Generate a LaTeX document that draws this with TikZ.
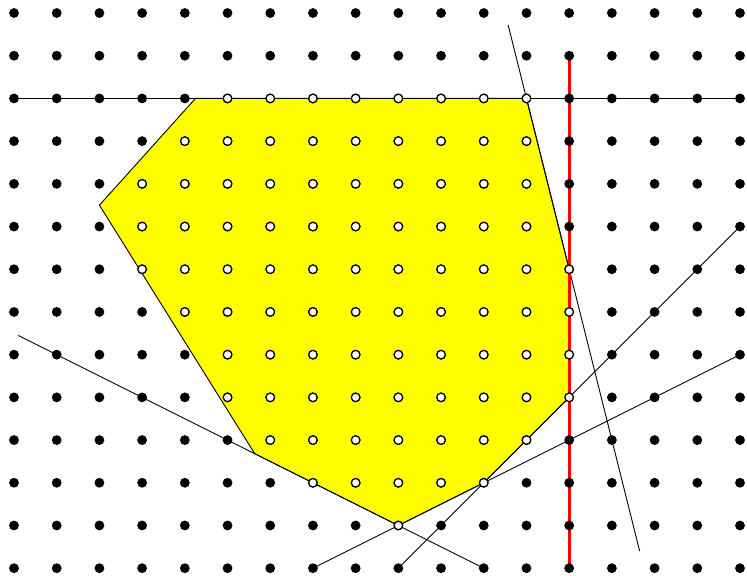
\documentclass[tikz,border=0pt]{standalone}
\usepackage{amsmath}
\usepackage{tikz}
\definecolor{hullyellow}{RGB}{255,255,0}

\begin{document}
\begin{tikzpicture}[x=1cm, y=1cm,
    hull/.style={fill=hullyellow, draw=black, line width=0.6pt},
    cutline/.style={black, line width=0.6pt},
    redcut/.style={red, line width=2pt},
    blackdot/.style={fill=black},
    whitedot/.style={fill=white, draw=black, line width=0.8pt}]
                    \useasboundingbox (-0.328,-0.164) rectangle (17.164,13.305);

                    % 多边形顶点
                    \coordinate (p1) at (4.25,11);
                    \coordinate (p2) at (12,11);
                    \coordinate (p3) at (13,7);
                    \coordinate (p4) at (13,4);
                    \coordinate (p5) at (11,2);
                    \coordinate (p6) at (9,1);
                    \coordinate (p7) at (5.636,2.682);
                    \coordinate (p8) at (2,8.5);

                    % 填充黄色区域
                    \filldraw[hull] (p1) -- (p2) -- (p3) -- (p4) -- (p5) -- (p6) -- (p7) -- (p8) -- cycle;

                    % 割平面直线
                    \coordinate (hA) at (0,11);
                    \coordinate (hB) at (17,11);
                    \draw[cutline] (hA) -- (hB);
                    \coordinate (sA) at (11.57,12.72);
                    \coordinate (sB) at (14.65,0.4);
                    \draw[cutline] (sA) -- (sB);
                    \coordinate (dA) at (9,0);
                    \coordinate (dB) at (17,8);
                    \draw[cutline] (dA) -- (dB);
                    \coordinate (eA) at (7,0);
                    \coordinate (eB) at (17,5);
                    \draw[cutline] (eA) -- (eB);
                    \coordinate (fA) at (0.1,5.45);
                    \coordinate (fB) at (11,0);
                    \draw[cutline] (fA) -- (fB);

                    % 红色竖线
                    \coordinate (rA) at (13,12);
                    \coordinate (rB) at (13,0);
                    \draw[redcut] (rA) -- (rB);

                    % 整点
                    \foreach \x in {0,...,17}
                        \foreach \y in {0,...,13}
                            \fill[blackdot] (\x,\y) circle (0.115);

                    % 区域内的整点
                    \foreach \y/\a/\b in {11/5/12, 10/4/12, 9/3/12, 8/3/12, 7/3/13, 6/4/13,
                                          5/5/13, 4/5/13, 3/6/12, 2/7/11, 1/9/9}
                        \foreach \x in {\a,...,\b}
                            \filldraw[whitedot] (\x,\y) circle (0.1);
                \end{tikzpicture}
\end{document}
